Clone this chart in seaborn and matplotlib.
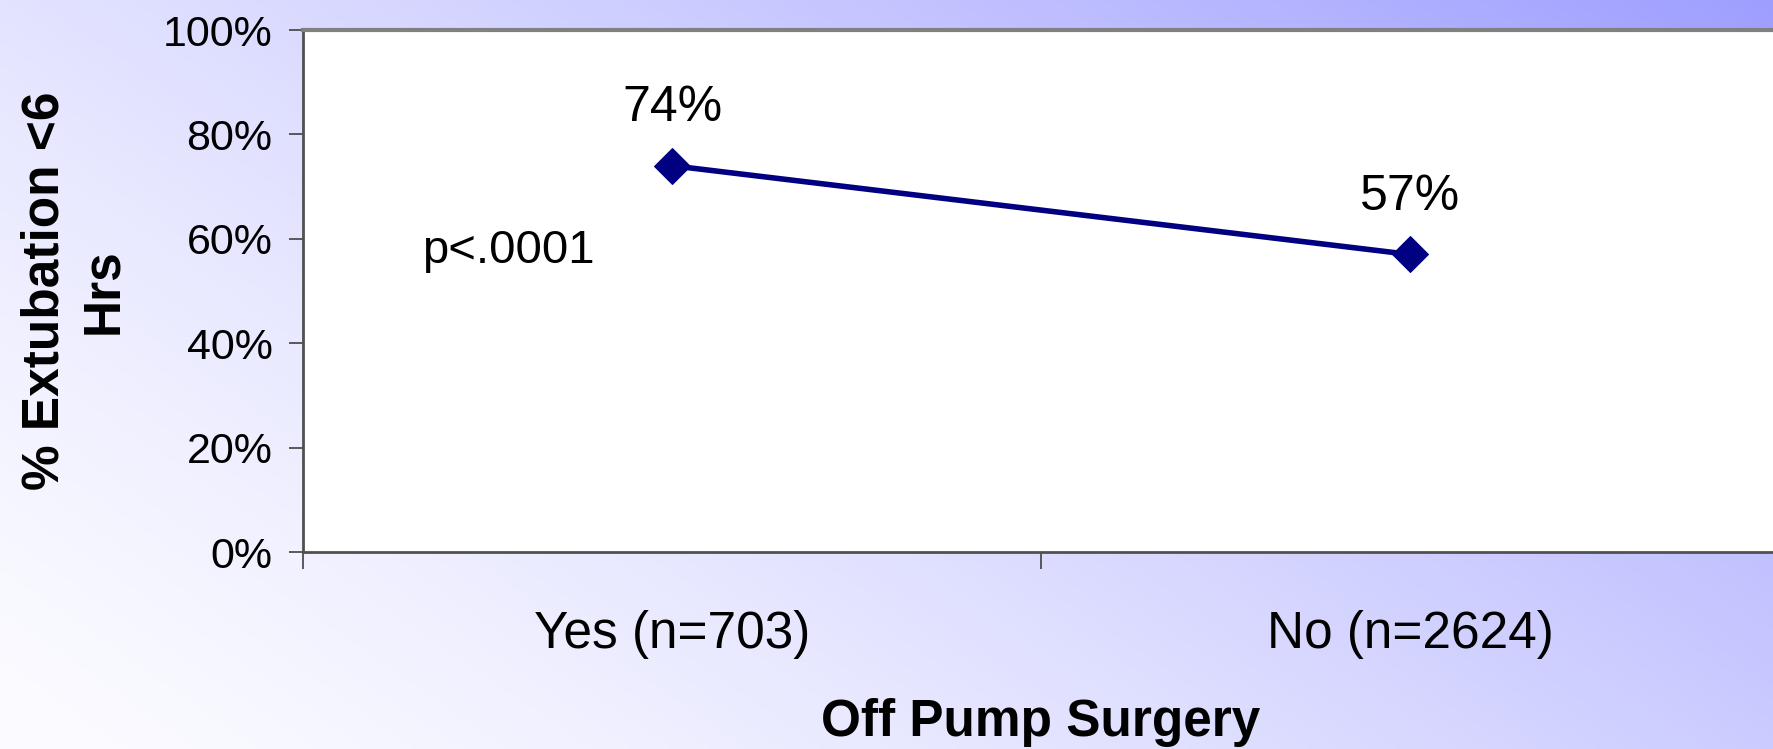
import matplotlib.pyplot as plt
import matplotlib.ticker as ticker
import numpy as np
import pandas as pd
import seaborn as sns

groups = ["Yes (n=703)", "No (n=2624)"]
rates = [74, 57]
rate_labels = ["74%", "57%"]
y_ticks = [0, 20, 40, 60, 80, 100]


def main():
    sns.set_style("white")
    plt.rcParams['font.family'] = ['Liberation Sans', 'DejaVu Sans']
    plt.rcParams['text.color'] = 'black'
    plt.rcParams['axes.labelcolor'] = 'black'
    plt.rcParams['xtick.color'] = 'black'
    plt.rcParams['ytick.color'] = 'black'

    fig = plt.figure(figsize=(17.73, 7.49), dpi=100)

    # diagonal lavender gradient behind everything
    bg = fig.add_axes([0, 0, 1, 1], zorder=-10)
    xx, yy = np.meshgrid(np.linspace(0, 1, 400), np.linspace(1, 0, 200))
    s = np.clip(0.62 * xx + 0.38 * yy, 0, 1) ** 1.4
    white = np.array([0.985, 0.985, 1.0])
    blue = np.array([0.62, 0.62, 1.0])
    img = white + s[..., None] * (blue - white)
    bg.imshow(img, aspect='auto', extent=[0, 1, 0, 1])
    bg.axis('off')

    ax = fig.add_axes([303 / 1773, 1 - 552 / 749, 1476 / 1773, 522 / 749])
    ax.set_facecolor('white')

    df = pd.DataFrame({
        'pos': np.arange(len(groups)) + 0.5,
        'rate': rates,
    })
    sns.lineplot(x='pos', y='rate', data=df, ax=ax, color='#000080',
                 linewidth=4, marker='D', markersize=18,
                 markeredgecolor='#000080', clip_on=False)

    ax.set_xlim(0, len(groups))
    ax.set_ylim(0, 100)
    ax.set_yticks(y_ticks)
    ax.yaxis.set_major_formatter(ticker.FuncFormatter(lambda v, _: f"{v:.0f}%"))
    ax.tick_params(axis='y', which='major', direction='out', length=10,
                   width=1.2, color='#404040', labelsize=31, pad=12,
                   left=True)

    ax.set_xticks(np.arange(len(groups) + 1))
    ax.set_xticklabels([])
    ax.xaxis.set_minor_locator(ticker.FixedLocator(df['pos']))
    ax.xaxis.set_minor_formatter(ticker.FixedFormatter(groups))
    ax.tick_params(axis='x', which='major', direction='out', length=12,
                   width=1.2, color='#404040', bottom=True)
    ax.tick_params(axis='x', which='minor', length=0, labelsize=37, pad=42)

    for side in ['left', 'bottom']:
        ax.spines[side].set_color('#505050')
        ax.spines[side].set_linewidth(2)
    ax.spines['top'].set_color('#808080')
    ax.spines['top'].set_linewidth(3)
    ax.spines['right'].set_visible(False)

    offsets = [11, 11]
    for p, r, lab, off in zip(df['pos'], rates, rate_labels, offsets):
        ax.text(p, r + off, lab, ha='center', va='center', fontsize=36)

    ax.text(0.278, 57.7, "p<.0001", ha='center', va='center', fontsize=34)

    ax.set_xlabel("Off Pump Surgery", fontsize=37, fontweight='bold',
                  labelpad=28)
    ax.set_ylabel("% Extubation <6\nHrs", fontsize=37, fontweight='bold',
                  linespacing=1.25, labelpad=25)

    fig.savefig("out.png", dpi=100)


if __name__ == "__main__":
    main()
